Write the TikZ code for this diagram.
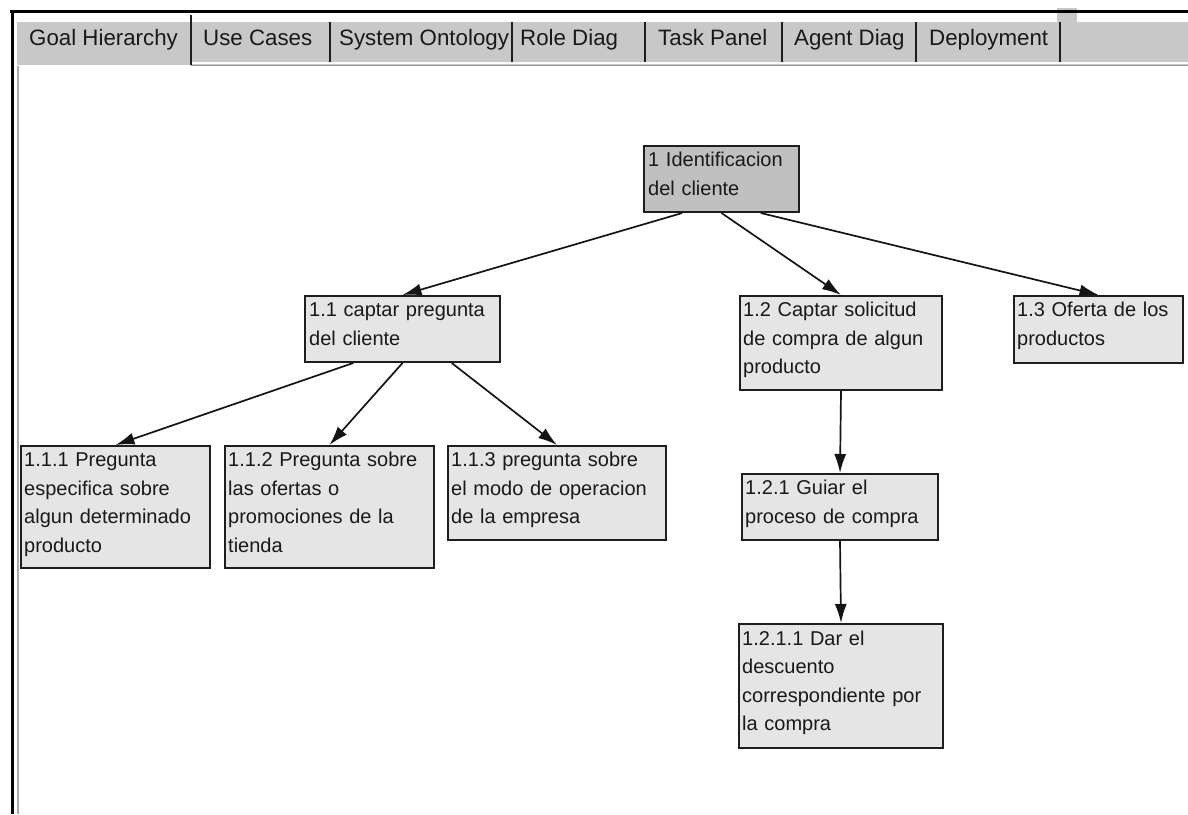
\documentclass[tikz,border=0pt]{standalone}
\usepackage{fontspec}
\setmainfont{Liberation Sans}
\usetikzlibrary{arrows.meta,calc}

\definecolor{tabgray}{RGB}{200,200,200}
\definecolor{rootfill}{RGB}{192,192,192}
\definecolor{boxfill}{RGB}{229,229,229}
\definecolor{boxline}{RGB}{30,30,30}
\definecolor{textcol}{RGB}{25,25,25}
\definecolor{edgegray}{RGB}{150,150,150}

\tikzset{
  goalbox/.style={draw=boxline, line width=2pt, fill=boxfill, inner sep=0pt, anchor=north west},
  goaltext/.style={anchor=base west, inner sep=0pt, text width=300pt, align=left,
                   font=\fontsize{20}{28.5}\selectfont, text=textcol},
  tablabel/.style={anchor=base west, inner sep=0pt, font=\fontsize{22.3}{26}\selectfont, text=textcol},
  tabsep/.style={draw=boxline, line width=2.2pt},
  link/.style={draw=black!92, line width=1.7pt, -{Latex[length=19pt,width=12pt]}}
}

\begin{document}
\begin{tikzpicture}[x=1pt,y=-1pt]
\useasboundingbox (0,0) rectangle (1188,814);
\fill[white] (0,0) rectangle (1188,814);

% window frame and tab strip
\fill[tabgray] (17,22) rectangle (1188,65);
\fill[tabgray] (1057,8) rectangle (1077,22);
\draw[white, line width=1.2pt] (191,63) -- (1188,63);
\draw[edgegray, line width=1.6pt] (191,65.5) -- (1188,65.5);
\draw[black, line width=3.5pt] (10,11.5) -- (1188,11.5);
\draw[black, line width=3pt] (12,10) -- (12,814);
\draw[edgegray!80, line width=2pt] (18,66) -- (18,814);

% tab separators
\draw[tabsep] (191,15) -- (191,65);
\foreach \x in {330, 512, 645, 782, 916, 1060}
  \draw[tabsep] (\x,22) -- (\x,62);

% tab labels
\node[tablabel] (tab1) at (29,45) {Goal Hierarchy};
\node[tablabel] (tab2) at (203,45) {Use Cases};
\node[tablabel] (tab3) at (339,45) {System Ontology};
\node[tablabel] (tab4) at (520,45) {Role Diag};
\node[tablabel] (tab5) at (658,45) {Task Panel};
\node[tablabel] (tab6) at (794,45) {Agent Diag};
\node[tablabel] (tab7) at (929,45) {Deployment};

% goal boxes
\node[goalbox, fill=rootfill, minimum width=155pt, minimum height=66pt] (g1) at (643,145) {};
\node[goaltext] (g1t) at (648,166.5) {1 Identificacion\\del cliente};

\node[goalbox, minimum width=195pt, minimum height=66pt] (g11) at (304,295) {};
\node[goaltext] (g11t) at (309,316.5) {1.1 captar pregunta\\del cliente};

\node[goalbox, minimum width=202pt, minimum height=94pt] (g12) at (739,295) {};
\node[goaltext] (g12t) at (743,316.5) {1.2 Captar solicitud\\de compra de algun\\producto};

\node[goalbox, minimum width=169pt, minimum height=67pt] (g13) at (1013,295) {};
\node[goaltext] (g13t) at (1017,316.5) {1.3 Oferta de los\\productos};

\node[goalbox, minimum width=189pt, minimum height=122pt] (g111) at (20,445) {};
\node[goaltext] (g111t) at (24,466.5) {1.1.1 Pregunta\\especifica sobre\\algun determinado\\producto};

\node[goalbox, minimum width=209pt, minimum height=122pt] (g112) at (224,445) {};
\node[goaltext] (g112t) at (228,466.5) {1.1.2 Pregunta sobre\\las ofertas o\\promociones de la\\tienda};

\node[goalbox, minimum width=218pt, minimum height=94pt] (g113) at (447,445) {};
\node[goaltext] (g113t) at (451,466.5) {1.1.3 pregunta sobre\\el modo de operacion\\de la empresa};

\node[goalbox, minimum width=196pt, minimum height=66pt] (g121) at (741,473) {};
\node[goaltext] (g121t) at (745,494.5) {1.2.1 Guiar el\\proceso de compra};

\node[goalbox, minimum width=204pt, minimum height=124pt] (g1211) at (738,623) {};
\node[goaltext] (g1211t) at (742,645) {1.2.1.1 Dar el\\descuento\\correspondiente por\\la compra};

% hierarchy links
\draw[link] ($(g1.south west)!0.25!(g1.south east)$) -- (g11.north);
\draw[link] (g1.south) -- (g12.north);
\draw[link] ($(g1.south west)!0.75!(g1.south east)$) -- (g13.north);
\draw[link] ($(g11.south west)!0.25!(g11.south east)$) -- (g111.north);
\draw[link] (g11.south) -- (g112.north);
\draw[link] ($(g11.south west)!0.75!(g11.south east)$) -- (g113.north);
\draw[link] (g12.south) -- (g121.north);
\draw[link] (g121.south) -- (g1211.north);
\end{tikzpicture}
\end{document}
